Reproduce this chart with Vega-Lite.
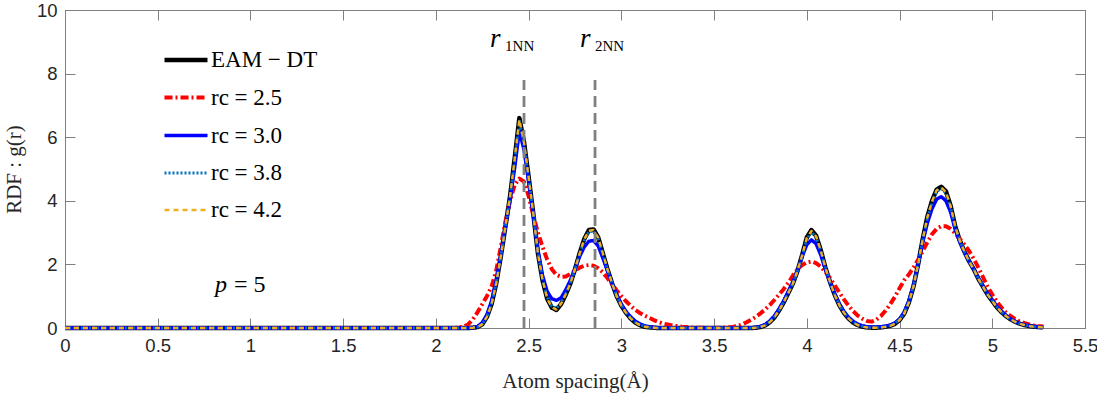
{
  "$schema": "https://vega.github.io/schema/vega-lite/v6.json",
  "width": 1020,
  "height": 318,
  "autosize": {"type": "none"},
  "padding": {"left": 65, "top": 10, "right": 12, "bottom": 75},
  "background": "white",
  "config": {
    "view": {"stroke": "#808080", "strokeWidth": 1},
    "axis": {
      "domainColor": "#808080",
      "tickColor": "#808080",
      "grid": false,
      "labelFlush": false,
      "labelFont": "Liberation Sans",
      "labelFontSize": 18.5,
      "labelColor": "#262626",
      "titleFont": "Liberation Serif",
      "titleFontSize": 21,
      "titleFontWeight": "normal",
      "titleColor": "#262626"
    }
  },
  "resolve": {"axis": {"x": "independent", "y": "independent"}},
  "layer": [
    {
      "data": {
        "values": [
          {"r": 0.0, "eam": 0, "c25": 0, "c30": 0, "c38": 0, "c42": 0},
          {"r": 0.1, "eam": 0, "c25": 0, "c30": 0, "c38": 0, "c42": 0},
          {"r": 0.2, "eam": 0, "c25": 0, "c30": 0, "c38": 0, "c42": 0},
          {"r": 0.3, "eam": 0, "c25": 0, "c30": 0, "c38": 0, "c42": 0},
          {"r": 0.4, "eam": 0, "c25": 0, "c30": 0, "c38": 0, "c42": 0},
          {"r": 0.5, "eam": 0, "c25": 0, "c30": 0, "c38": 0, "c42": 0},
          {"r": 0.6, "eam": 0, "c25": 0, "c30": 0, "c38": 0, "c42": 0},
          {"r": 0.7, "eam": 0, "c25": 0, "c30": 0, "c38": 0, "c42": 0},
          {"r": 0.8, "eam": 0, "c25": 0, "c30": 0, "c38": 0, "c42": 0},
          {"r": 0.9, "eam": 0, "c25": 0, "c30": 0, "c38": 0, "c42": 0},
          {"r": 1.0, "eam": 0, "c25": 0, "c30": 0, "c38": 0, "c42": 0},
          {"r": 1.1, "eam": 0, "c25": 0, "c30": 0, "c38": 0, "c42": 0},
          {"r": 1.2, "eam": 0, "c25": 0, "c30": 0, "c38": 0, "c42": 0},
          {"r": 1.3, "eam": 0, "c25": 0, "c30": 0, "c38": 0, "c42": 0},
          {"r": 1.4, "eam": 0, "c25": 0, "c30": 0, "c38": 0, "c42": 0},
          {"r": 1.5, "eam": 0, "c25": 0, "c30": 0, "c38": 0, "c42": 0},
          {"r": 1.6, "eam": 0, "c25": 0, "c30": 0, "c38": 0, "c42": 0},
          {"r": 1.7, "eam": 0, "c25": 0, "c30": 0, "c38": 0, "c42": 0},
          {"r": 1.8, "eam": 0, "c25": 0, "c30": 0, "c38": 0, "c42": 0},
          {"r": 1.9, "eam": 0, "c25": 0, "c30": 0, "c38": 0, "c42": 0},
          {"r": 2.0, "eam": 0, "c25": 0, "c30": 0, "c38": 0, "c42": 0},
          {"r": 2.1, "eam": 0, "c25": 0, "c30": 0, "c38": 0, "c42": 0},
          {"r": 2.125, "eam": 0, "c25": 0.02, "c30": 0, "c38": 0, "c42": 0},
          {"r": 2.15, "eam": 0, "c25": 0.05, "c30": 0, "c38": 0, "c42": 0},
          {"r": 2.175, "eam": 0, "c25": 0.12, "c30": 0, "c38": 0, "c42": 0},
          {"r": 2.2, "eam": 0.01, "c25": 0.28, "c30": 0.01, "c38": 0.01, "c42": 0.01},
          {"r": 2.225, "eam": 0.03, "c25": 0.5, "c30": 0.05, "c38": 0.03, "c42": 0.03},
          {"r": 2.25, "eam": 0.12, "c25": 0.75, "c30": 0.17, "c38": 0.12, "c42": 0.12},
          {"r": 2.275, "eam": 0.35, "c25": 1.0, "c30": 0.42, "c38": 0.35, "c42": 0.35},
          {"r": 2.3, "eam": 0.75, "c25": 1.3, "c30": 0.85, "c38": 0.76, "c42": 0.75},
          {"r": 2.325, "eam": 1.4, "c25": 1.8, "c30": 1.5, "c38": 1.4, "c42": 1.4},
          {"r": 2.35, "eam": 2.25, "c25": 2.55, "c30": 2.3, "c38": 2.25, "c42": 2.25},
          {"r": 2.375, "eam": 3.2, "c25": 3.35, "c30": 3.2, "c38": 3.2, "c42": 3.2},
          {"r": 2.4, "eam": 4.15, "c25": 4.0, "c30": 4.05, "c38": 4.12, "c42": 4.14},
          {"r": 2.425, "eam": 5.35, "c25": 4.5, "c30": 5.05, "c38": 5.3, "c42": 5.33},
          {"r": 2.45, "eam": 6.6, "c25": 4.7, "c30": 6.2, "c38": 6.5, "c42": 6.55},
          {"r": 2.475, "eam": 5.85, "c25": 4.6, "c30": 5.6, "c38": 5.8, "c42": 5.83},
          {"r": 2.5, "eam": 4.75, "c25": 4.15, "c30": 4.6, "c38": 4.72, "c42": 4.74},
          {"r": 2.525, "eam": 3.6, "c25": 3.55, "c30": 3.55, "c38": 3.6, "c42": 3.6},
          {"r": 2.55, "eam": 2.35, "c25": 3.0, "c30": 2.45, "c38": 2.37, "c42": 2.36},
          {"r": 2.575, "eam": 1.5, "c25": 2.55, "c30": 1.65, "c38": 1.53, "c42": 1.51},
          {"r": 2.6, "eam": 0.92, "c25": 2.15, "c30": 1.15, "c38": 0.96, "c42": 0.93},
          {"r": 2.625, "eam": 0.64, "c25": 1.85, "c30": 0.92, "c38": 0.68, "c42": 0.65},
          {"r": 2.65, "eam": 0.57, "c25": 1.67, "c30": 0.87, "c38": 0.62, "c42": 0.58},
          {"r": 2.675, "eam": 0.75, "c25": 1.61, "c30": 0.95, "c38": 0.79, "c42": 0.76},
          {"r": 2.7, "eam": 1.05, "c25": 1.62, "c30": 1.2, "c38": 1.08, "c42": 1.06},
          {"r": 2.725, "eam": 1.4, "c25": 1.7, "c30": 1.5, "c38": 1.42, "c42": 1.4},
          {"r": 2.75, "eam": 1.85, "c25": 1.8, "c30": 1.85, "c38": 1.85, "c42": 1.85},
          {"r": 2.775, "eam": 2.35, "c25": 1.9, "c30": 2.25, "c38": 2.33, "c42": 2.34},
          {"r": 2.8, "eam": 2.8, "c25": 1.96, "c30": 2.55, "c38": 2.76, "c42": 2.79},
          {"r": 2.825, "eam": 3.08, "c25": 1.98, "c30": 2.73, "c38": 3.03, "c42": 3.06},
          {"r": 2.85, "eam": 3.1, "c25": 1.96, "c30": 2.75, "c38": 3.05, "c42": 3.08},
          {"r": 2.875, "eam": 2.85, "c25": 1.88, "c30": 2.58, "c38": 2.81, "c42": 2.84},
          {"r": 2.9, "eam": 2.35, "c25": 1.75, "c30": 2.2, "c38": 2.33, "c42": 2.35},
          {"r": 2.925, "eam": 1.85, "c25": 1.57, "c30": 1.8, "c38": 1.85, "c42": 1.85},
          {"r": 2.95, "eam": 1.4, "c25": 1.37, "c30": 1.4, "c38": 1.4, "c42": 1.4},
          {"r": 2.975, "eam": 1.0, "c25": 1.18, "c30": 1.05, "c38": 1.01, "c42": 1.0},
          {"r": 3.0, "eam": 0.7, "c25": 1.0, "c30": 0.75, "c38": 0.71, "c42": 0.7},
          {"r": 3.025, "eam": 0.48, "c25": 0.84, "c30": 0.52, "c38": 0.49, "c42": 0.48},
          {"r": 3.05, "eam": 0.3, "c25": 0.7, "c30": 0.35, "c38": 0.31, "c42": 0.3},
          {"r": 3.075, "eam": 0.17, "c25": 0.57, "c30": 0.22, "c38": 0.18, "c42": 0.17},
          {"r": 3.1, "eam": 0.09, "c25": 0.47, "c30": 0.13, "c38": 0.1, "c42": 0.09},
          {"r": 3.125, "eam": 0.04, "c25": 0.39, "c30": 0.07, "c38": 0.05, "c42": 0.04},
          {"r": 3.15, "eam": 0.02, "c25": 0.32, "c30": 0.04, "c38": 0.02, "c42": 0.02},
          {"r": 3.175, "eam": 0.01, "c25": 0.25, "c30": 0.02, "c38": 0.01, "c42": 0.01},
          {"r": 3.2, "eam": 0, "c25": 0.19, "c30": 0.01, "c38": 0, "c42": 0},
          {"r": 3.225, "eam": 0, "c25": 0.14, "c30": 0, "c38": 0, "c42": 0},
          {"r": 3.25, "eam": 0, "c25": 0.11, "c30": 0, "c38": 0, "c42": 0},
          {"r": 3.275, "eam": 0, "c25": 0.08, "c30": 0, "c38": 0, "c42": 0},
          {"r": 3.3, "eam": 0, "c25": 0.06, "c30": 0, "c38": 0, "c42": 0},
          {"r": 3.325, "eam": 0, "c25": 0.04, "c30": 0, "c38": 0, "c42": 0},
          {"r": 3.35, "eam": 0, "c25": 0.03, "c30": 0, "c38": 0, "c42": 0},
          {"r": 3.375, "eam": 0, "c25": 0.02, "c30": 0, "c38": 0, "c42": 0},
          {"r": 3.4, "eam": 0, "c25": 0.01, "c30": 0, "c38": 0, "c42": 0},
          {"r": 3.425, "eam": 0, "c25": 0.01, "c30": 0, "c38": 0, "c42": 0},
          {"r": 3.45, "eam": 0, "c25": 0.01, "c30": 0, "c38": 0, "c42": 0},
          {"r": 3.475, "eam": 0, "c25": 0, "c30": 0, "c38": 0, "c42": 0},
          {"r": 3.5, "eam": 0, "c25": 0, "c30": 0, "c38": 0, "c42": 0},
          {"r": 3.525, "eam": 0, "c25": 0.01, "c30": 0, "c38": 0, "c42": 0},
          {"r": 3.55, "eam": 0, "c25": 0.01, "c30": 0, "c38": 0, "c42": 0},
          {"r": 3.575, "eam": 0, "c25": 0.02, "c30": 0, "c38": 0, "c42": 0},
          {"r": 3.6, "eam": 0, "c25": 0.03, "c30": 0, "c38": 0, "c42": 0},
          {"r": 3.625, "eam": 0, "c25": 0.06, "c30": 0, "c38": 0, "c42": 0},
          {"r": 3.65, "eam": 0, "c25": 0.11, "c30": 0, "c38": 0, "c42": 0},
          {"r": 3.675, "eam": 0, "c25": 0.18, "c30": 0, "c38": 0, "c42": 0},
          {"r": 3.7, "eam": 0, "c25": 0.26, "c30": 0.01, "c38": 0, "c42": 0},
          {"r": 3.725, "eam": 0.01, "c25": 0.35, "c30": 0.02, "c38": 0.01, "c42": 0.01},
          {"r": 3.75, "eam": 0.03, "c25": 0.46, "c30": 0.05, "c38": 0.03, "c42": 0.03},
          {"r": 3.775, "eam": 0.08, "c25": 0.58, "c30": 0.11, "c38": 0.09, "c42": 0.08},
          {"r": 3.8, "eam": 0.18, "c25": 0.72, "c30": 0.22, "c38": 0.19, "c42": 0.18},
          {"r": 3.825, "eam": 0.33, "c25": 0.88, "c30": 0.38, "c38": 0.34, "c42": 0.33},
          {"r": 3.85, "eam": 0.55, "c25": 1.05, "c30": 0.6, "c38": 0.56, "c42": 0.55},
          {"r": 3.875, "eam": 0.8, "c25": 1.22, "c30": 0.85, "c38": 0.81, "c42": 0.8},
          {"r": 3.9, "eam": 1.1, "c25": 1.42, "c30": 1.15, "c38": 1.1, "c42": 1.1},
          {"r": 3.925, "eam": 1.4, "c25": 1.65, "c30": 1.45, "c38": 1.4, "c42": 1.4},
          {"r": 3.95, "eam": 1.8, "c25": 1.85, "c30": 1.8, "c38": 1.79, "c42": 1.8},
          {"r": 3.975, "eam": 2.3, "c25": 1.98, "c30": 2.25, "c38": 2.27, "c42": 2.29},
          {"r": 4.0, "eam": 2.85, "c25": 2.06, "c30": 2.62, "c38": 2.8, "c42": 2.83},
          {"r": 4.025, "eam": 3.08, "c25": 2.09, "c30": 2.77, "c38": 3.02, "c42": 3.05},
          {"r": 4.05, "eam": 2.9, "c25": 2.04, "c30": 2.65, "c38": 2.86, "c42": 2.88},
          {"r": 4.075, "eam": 2.45, "c25": 1.93, "c30": 2.3, "c38": 2.43, "c42": 2.44},
          {"r": 4.1, "eam": 1.9, "c25": 1.77, "c30": 1.85, "c38": 1.9, "c42": 1.9},
          {"r": 4.125, "eam": 1.45, "c25": 1.57, "c30": 1.45, "c38": 1.45, "c42": 1.45},
          {"r": 4.15, "eam": 1.05, "c25": 1.35, "c30": 1.08, "c38": 1.06, "c42": 1.05},
          {"r": 4.175, "eam": 0.72, "c25": 1.12, "c30": 0.77, "c38": 0.73, "c42": 0.72},
          {"r": 4.2, "eam": 0.48, "c25": 0.9, "c30": 0.52, "c38": 0.49, "c42": 0.48},
          {"r": 4.225, "eam": 0.3, "c25": 0.7, "c30": 0.34, "c38": 0.31, "c42": 0.3},
          {"r": 4.25, "eam": 0.17, "c25": 0.53, "c30": 0.21, "c38": 0.18, "c42": 0.17},
          {"r": 4.275, "eam": 0.09, "c25": 0.39, "c30": 0.12, "c38": 0.1, "c42": 0.09},
          {"r": 4.3, "eam": 0.04, "c25": 0.29, "c30": 0.07, "c38": 0.05, "c42": 0.04},
          {"r": 4.325, "eam": 0.02, "c25": 0.22, "c30": 0.04, "c38": 0.02, "c42": 0.02},
          {"r": 4.35, "eam": 0.01, "c25": 0.2, "c30": 0.03, "c38": 0.01, "c42": 0.01},
          {"r": 4.375, "eam": 0.01, "c25": 0.26, "c30": 0.03, "c38": 0.01, "c42": 0.01},
          {"r": 4.4, "eam": 0.02, "c25": 0.38, "c30": 0.04, "c38": 0.02, "c42": 0.02},
          {"r": 4.425, "eam": 0.04, "c25": 0.55, "c30": 0.06, "c38": 0.04, "c42": 0.04},
          {"r": 4.45, "eam": 0.07, "c25": 0.75, "c30": 0.09, "c38": 0.07, "c42": 0.07},
          {"r": 4.475, "eam": 0.13, "c25": 0.98, "c30": 0.16, "c38": 0.14, "c42": 0.13},
          {"r": 4.5, "eam": 0.25, "c25": 1.25, "c30": 0.28, "c38": 0.26, "c42": 0.25},
          {"r": 4.525, "eam": 0.45, "c25": 1.5, "c30": 0.5, "c38": 0.46, "c42": 0.45},
          {"r": 4.55, "eam": 0.8, "c25": 1.68, "c30": 0.85, "c38": 0.81, "c42": 0.8},
          {"r": 4.575, "eam": 1.3, "c25": 1.9, "c30": 1.35, "c38": 1.31, "c42": 1.3},
          {"r": 4.6, "eam": 2.0, "c25": 2.15, "c30": 2.0, "c38": 2.0, "c42": 2.0},
          {"r": 4.625, "eam": 2.8, "c25": 2.42, "c30": 2.7, "c38": 2.77, "c42": 2.79},
          {"r": 4.65, "eam": 3.5, "c25": 2.7, "c30": 3.3, "c38": 3.45, "c42": 3.48},
          {"r": 4.675, "eam": 4.0, "c25": 2.95, "c30": 3.75, "c38": 3.94, "c42": 3.98},
          {"r": 4.7, "eam": 4.35, "c25": 3.12, "c30": 4.05, "c38": 4.29, "c42": 4.33},
          {"r": 4.725, "eam": 4.44, "c25": 3.2, "c30": 4.13, "c38": 4.38, "c42": 4.42},
          {"r": 4.75, "eam": 4.3, "c25": 3.2, "c30": 4.0, "c38": 4.25, "c42": 4.28},
          {"r": 4.775, "eam": 3.85, "c25": 3.12, "c30": 3.65, "c38": 3.81, "c42": 3.84},
          {"r": 4.8, "eam": 3.2, "c25": 2.98, "c30": 3.1, "c38": 3.18, "c42": 3.2},
          {"r": 4.825, "eam": 2.75, "c25": 2.8, "c30": 2.7, "c38": 2.74, "c42": 2.75},
          {"r": 4.85, "eam": 2.4, "c25": 2.62, "c30": 2.38, "c38": 2.4, "c42": 2.4},
          {"r": 4.875, "eam": 2.1, "c25": 2.42, "c30": 2.1, "c38": 2.1, "c42": 2.1},
          {"r": 4.9, "eam": 1.85, "c25": 2.18, "c30": 1.85, "c38": 1.85, "c42": 1.85},
          {"r": 4.925, "eam": 1.55, "c25": 1.9, "c30": 1.57, "c38": 1.56, "c42": 1.55},
          {"r": 4.95, "eam": 1.3, "c25": 1.6, "c30": 1.32, "c38": 1.31, "c42": 1.3},
          {"r": 4.975, "eam": 1.05, "c25": 1.3, "c30": 1.08, "c38": 1.06, "c42": 1.05},
          {"r": 5.0, "eam": 0.85, "c25": 1.05, "c30": 0.88, "c38": 0.86, "c42": 0.85},
          {"r": 5.025, "eam": 0.65, "c25": 0.83, "c30": 0.68, "c38": 0.66, "c42": 0.65},
          {"r": 5.05, "eam": 0.5, "c25": 0.64, "c30": 0.52, "c38": 0.5, "c42": 0.5},
          {"r": 5.075, "eam": 0.37, "c25": 0.48, "c30": 0.39, "c38": 0.38, "c42": 0.37},
          {"r": 5.1, "eam": 0.27, "c25": 0.37, "c30": 0.28, "c38": 0.27, "c42": 0.27},
          {"r": 5.125, "eam": 0.19, "c25": 0.27, "c30": 0.2, "c38": 0.19, "c42": 0.19},
          {"r": 5.15, "eam": 0.13, "c25": 0.2, "c30": 0.14, "c38": 0.13, "c42": 0.13},
          {"r": 5.175, "eam": 0.09, "c25": 0.15, "c30": 0.1, "c38": 0.09, "c42": 0.09},
          {"r": 5.2, "eam": 0.06, "c25": 0.11, "c30": 0.07, "c38": 0.06, "c42": 0.06},
          {"r": 5.225, "eam": 0.04, "c25": 0.08, "c30": 0.05, "c38": 0.04, "c42": 0.04},
          {"r": 5.25, "eam": 0.03, "c25": 0.06, "c30": 0.03, "c38": 0.03, "c42": 0.03},
          {"r": 5.275, "eam": 0.02, "c25": 0.05, "c30": 0.02, "c38": 0.02, "c42": 0.02}
        ]
      },
      "transform": [{"fold": ["eam", "c25", "c30", "c38", "c42"], "as": ["series", "g"]}],
      "mark": {"type": "line", "strokeCap": "butt", "strokeJoin": "round"},
      "encoding": {
        "x": {
          "field": "r", "type": "quantitative",
          "scale": {"domain": [0, 5.5], "nice": false, "zero": false},
          "axis": {
            "orient": "bottom", "title": "Atom spacing(Å)",
            "values": [0, 0.5, 1, 1.5, 2, 2.5, 3, 3.5, 4, 4.5, 5, 5.5],
            "format": ".1~f", "tickSize": -10, "labelPadding": 18, "titlePadding": 16
          }
        },
        "y": {
          "field": "g", "type": "quantitative",
          "scale": {"domain": [0, 10], "nice": false},
          "axis": {
            "orient": "left", "title": "RDF : g(r)",
            "values": [0, 2, 4, 6, 8, 10],
            "tickSize": -10, "labelPadding": 18, "titlePadding": 12
          }
        },
        "color": {
          "field": "series", "type": "nominal",
          "scale": {"domain": ["eam", "c25", "c30", "c38", "c42"], "range": ["#000000", "#FF0000", "#0000FF", "#0072BD", "#EDB120"]},
          "legend": {
            "orient": "none", "legendX": 97, "legendY": 26, "title": null,
            "symbolType": "stroke", "symbolSize": 1849, "labelFont": "Liberation Serif",
            "labelFontSize": 23, "labelColor": "#000000", "labelOffset": 1, "rowPadding": 2, "padding": 0,
            "labelExpr": "datum.label == 'eam' ? 'EAM − DT' : datum.label == 'c25' ? 'rc = 2.5' : datum.label == 'c30' ? 'rc = 3.0' : datum.label == 'c38' ? 'rc = 3.8' : 'rc = 4.2'"
          }
        },
        "strokeDash": {
          "field": "series", "type": "nominal",
          "scale": {"domain": ["eam", "c25", "c30", "c38", "c42"], "range": [[1, 0], [8, 3, 2, 3], [1, 0], [2, 2], [5, 4]]},
          "legend": null
        },
        "strokeWidth": {
          "field": "series", "type": "nominal",
          "scale": {"domain": ["eam", "c25", "c30", "c38", "c42"], "range": [4.5, 2.4, 2.8, 2.3, 1.8]},
          "legend": null
        }
      }
    },
    {
      "data": {"values": [{"pos": 2.475, "lo": 0, "hi": 7.8}, {"pos": 2.858, "lo": 0, "hi": 7.8}]},
      "mark": {"type": "rule", "color": "#808080", "strokeWidth": 2.8, "strokeDash": [11, 6]},
      "encoding": {
        "x": {
          "field": "pos", "type": "quantitative",
          "axis": {"orient": "top", "title": null, "labels": false, "values": [0, 0.5, 1, 1.5, 2, 2.5, 3, 3.5, 4, 4.5, 5, 5.5], "tickSize": -10}
        },
        "y": {
          "field": "lo", "type": "quantitative",
          "axis": {"orient": "right", "title": null, "labels": false, "values": [0, 2, 4, 6, 8, 10], "tickSize": -10}
        },
        "y2": {"field": "hi"}
      }
    },
    {
      "data": {"values": [{"x": 2.292, "y": 8.84, "sub": "1NN"}, {"x": 2.777, "y": 8.84, "sub": "2NN"}]},
      "layer": [
        {
          "mark": {"type": "text", "text": "r", "font": "Liberation Serif", "fontStyle": "italic", "fontSize": 27, "align": "left", "baseline": "alphabetic", "color": "#000000"},
          "encoding": {"x": {"field": "x", "type": "quantitative", "axis": null}, "y": {"field": "y", "type": "quantitative", "axis": null}}
        },
        {
          "mark": {"type": "text", "font": "Liberation Serif", "fontSize": 15, "align": "left", "baseline": "alphabetic", "dx": 15, "dy": 4, "color": "#000000"},
          "encoding": {"x": {"field": "x", "type": "quantitative", "axis": null}, "y": {"field": "y", "type": "quantitative", "axis": null}, "text": {"field": "sub"}}
        }
      ]
    },
    {
      "data": {"values": [{"x": 0.809, "y": 1.13, "rest": "= 5"}]},
      "layer": [
        {
          "mark": {"type": "text", "text": "p", "font": "Liberation Serif", "fontStyle": "italic", "fontSize": 24, "align": "left", "baseline": "alphabetic", "color": "#000000"},
          "encoding": {"x": {"field": "x", "type": "quantitative", "axis": null}, "y": {"field": "y", "type": "quantitative", "axis": null}}
        },
        {
          "mark": {"type": "text", "font": "Liberation Serif", "fontSize": 24, "align": "left", "baseline": "alphabetic", "dx": 19, "color": "#000000"},
          "encoding": {"x": {"field": "x", "type": "quantitative", "axis": null}, "y": {"field": "y", "type": "quantitative", "axis": null}, "text": {"field": "rest"}}
        }
      ]
    }
  ]
}
